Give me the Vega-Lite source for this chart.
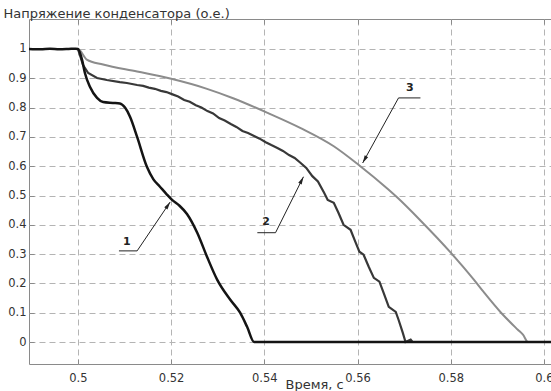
{
  "$schema": "https://vega.github.io/schema/vega-lite/v6.json",
  "width": 523,
  "height": 345,
  "autosize": {"type": "none"},
  "padding": {"left": 29, "top": 19, "right": 0, "bottom": 27},
  "background": "white",
  "config": {"view": {"stroke": "#8a8a8a", "strokeWidth": 1}, "font": "DejaVu Sans"},
  "resolve": {"axis": {"x": "independent"}},
  "datasets": {
    "c1": [
      {"t": 0.4895, "u": 1.0}, {"t": 0.492, "u": 0.999}, {"t": 0.494, "u": 1.001}, {"t": 0.496, "u": 0.999}, {"t": 0.498, "u": 1.0}, {"t": 0.4995, "u": 1.001},
      {"t": 0.5, "u": 1.0}, {"t": 0.5009, "u": 0.962}, {"t": 0.5015, "u": 0.918}, {"t": 0.5026, "u": 0.87}, {"t": 0.5041, "u": 0.833}, {"t": 0.5054, "u": 0.819},
      {"t": 0.5075, "u": 0.816}, {"t": 0.509, "u": 0.814}, {"t": 0.5101, "u": 0.8}, {"t": 0.5112, "u": 0.768}, {"t": 0.5127, "u": 0.7}, {"t": 0.5148, "u": 0.598},
      {"t": 0.5162, "u": 0.555}, {"t": 0.5176, "u": 0.53}, {"t": 0.519, "u": 0.505}, {"t": 0.5202, "u": 0.485}, {"t": 0.5218, "u": 0.465}, {"t": 0.5234, "u": 0.437},
      {"t": 0.5256, "u": 0.373}, {"t": 0.5277, "u": 0.291}, {"t": 0.5299, "u": 0.212}, {"t": 0.5327, "u": 0.144}, {"t": 0.5348, "u": 0.1}, {"t": 0.5363, "u": 0.052},
      {"t": 0.5378, "u": 0.0}, {"t": 0.6015, "u": 0.0}
    ],
    "c2": [
      {"t": 0.4895, "u": 1.0}, {"t": 0.5, "u": 1.0}, {"t": 0.5011, "u": 0.945}, {"t": 0.5022, "u": 0.918}, {"t": 0.5041, "u": 0.901}, {"t": 0.5062, "u": 0.894},
      {"t": 0.509, "u": 0.887}, {"t": 0.5105, "u": 0.884}, {"t": 0.5127, "u": 0.877}, {"t": 0.514, "u": 0.874}, {"t": 0.5152, "u": 0.868}, {"t": 0.5165, "u": 0.864},
      {"t": 0.5178, "u": 0.857}, {"t": 0.519, "u": 0.853}, {"t": 0.5203, "u": 0.845}, {"t": 0.5215, "u": 0.838}, {"t": 0.5228, "u": 0.826}, {"t": 0.524, "u": 0.82},
      {"t": 0.5253, "u": 0.808}, {"t": 0.5265, "u": 0.8}, {"t": 0.5278, "u": 0.788}, {"t": 0.529, "u": 0.78}, {"t": 0.5303, "u": 0.764}, {"t": 0.5315, "u": 0.756},
      {"t": 0.5328, "u": 0.744}, {"t": 0.534, "u": 0.734}, {"t": 0.5353, "u": 0.72}, {"t": 0.5365, "u": 0.713}, {"t": 0.5378, "u": 0.703}, {"t": 0.539, "u": 0.694},
      {"t": 0.5403, "u": 0.682}, {"t": 0.5415, "u": 0.672}, {"t": 0.5428, "u": 0.662}, {"t": 0.544, "u": 0.652}, {"t": 0.5453, "u": 0.638}, {"t": 0.5465, "u": 0.628},
      {"t": 0.5478, "u": 0.611}, {"t": 0.549, "u": 0.594}, {"t": 0.5503, "u": 0.566}, {"t": 0.5515, "u": 0.548}, {"t": 0.5528, "u": 0.51}, {"t": 0.5536, "u": 0.485},
      {"t": 0.5549, "u": 0.475}, {"t": 0.5559, "u": 0.441}, {"t": 0.557, "u": 0.4}, {"t": 0.5585, "u": 0.383}, {"t": 0.5596, "u": 0.339}, {"t": 0.5604, "u": 0.308},
      {"t": 0.5613, "u": 0.298}, {"t": 0.5624, "u": 0.257}, {"t": 0.5635, "u": 0.219}, {"t": 0.5647, "u": 0.206}, {"t": 0.5656, "u": 0.168}, {"t": 0.5667, "u": 0.12},
      {"t": 0.5682, "u": 0.103}, {"t": 0.5688, "u": 0.076}, {"t": 0.5697, "u": 0.032}, {"t": 0.5703, "u": 0.0}, {"t": 0.5714, "u": 0.008}, {"t": 0.5718, "u": 0.0},
      {"t": 0.6015, "u": 0.0}
    ],
    "c3": [
      {"t": 0.4895, "u": 1.0}, {"t": 0.5, "u": 1.0}, {"t": 0.5019, "u": 0.964}, {"t": 0.5054, "u": 0.947}, {"t": 0.5127, "u": 0.923}, {"t": 0.5198, "u": 0.899},
      {"t": 0.5277, "u": 0.864}, {"t": 0.5333, "u": 0.832}, {"t": 0.5407, "u": 0.782}, {"t": 0.5478, "u": 0.73}, {"t": 0.5549, "u": 0.668}, {"t": 0.5602, "u": 0.605},
      {"t": 0.5665, "u": 0.522}, {"t": 0.5686, "u": 0.492}, {"t": 0.5736, "u": 0.413}, {"t": 0.58, "u": 0.305}, {"t": 0.585, "u": 0.212}, {"t": 0.5871, "u": 0.17},
      {"t": 0.5908, "u": 0.1}, {"t": 0.5944, "u": 0.042}, {"t": 0.5955, "u": 0.025}, {"t": 0.5966, "u": 0.0}, {"t": 0.6015, "u": 0.0}
    ],
    "leaders": [
      {"t": 0.5088, "u": 0.311, "t2": 0.5127, "u2": 0.311},
      {"t": 0.5127, "u": 0.311, "t2": 0.5198, "u2": 0.478},
      {"t": 0.5385, "u": 0.373, "t2": 0.5424, "u2": 0.373},
      {"t": 0.5424, "u": 0.373, "t2": 0.5484, "u2": 0.564},
      {"t": 0.5688, "u": 0.833, "t2": 0.5735, "u2": 0.833},
      {"t": 0.5688, "u": 0.833, "t2": 0.5611, "u2": 0.611}
    ],
    "arrows": [
      {"id": "1", "t": 0.5198, "u": 0.478},
      {"id": "2", "t": 0.5484, "u": 0.564},
      {"id": "3", "t": 0.5611, "u": 0.611}
    ],
    "labels": [
      {"label": "1", "t": 0.5105, "u": 0.342},
      {"label": "2", "t": 0.5404, "u": 0.41},
      {"label": "3", "t": 0.5712, "u": 0.867}
    ]
  },
  "encoding": {
    "y": {"field": "u", "type": "quantitative",
      "scale": {"domain": [-0.075, 1.1023], "nice": false, "zero": false},
      "axis": {"values": [0, 0.1, 0.2, 0.3, 0.4, 0.5, 0.6, 0.7, 0.8, 0.9, 1], "format": ".1~f", "labelOverlap": false,
        "grid": true, "gridDash": [6, 4], "gridColor": "#b4b4b4", "gridWidth": 1,
        "domain": false, "tickSize": -5, "tickColor": "#8a8a8a", "labelPadding": 8,
        "labelFont": "DejaVu Sans", "labelFontSize": 11.5, "labelColor": "#333333",
        "title": "Напряжение конденсатора (о.е.)", "titleFont": "DejaVu Sans", "titleFontSize": 13, "titleFontWeight": "normal", "titleColor": "#333333",
        "titleAngle": 0, "titleX": -26, "titleY": -2, "titleAlign": "left", "titleBaseline": "alphabetic", "titleAnchor": null}}
  },
  "layer": [
    {
      "data": {"name": "c3"},
      "mark": {"type": "line", "color": "#8c8c8c", "strokeWidth": 2, "interpolate": "monotone"},
      "encoding": {
        "x": {"field": "t", "type": "quantitative",
          "scale": {"domain": [0.4895, 0.60173], "nice": false, "zero": false},
          "axis": {"orient": "bottom", "values": [0.5, 0.52, 0.54, 0.56, 0.58, 0.6], "format": ".2~f", "labelOverlap": false,
            "grid": true, "gridDash": [6, 4], "gridColor": "#b4b4b4", "gridWidth": 1,
            "domain": false, "tickSize": -5, "tickColor": "#8a8a8a", "labelPadding": 13,
            "labelFont": "DejaVu Sans", "labelFontSize": 11.5, "labelColor": "#333333",
            "title": "Время, с", "titleFont": "DejaVu Sans", "titleFontSize": 13, "titleFontWeight": "normal", "titleColor": "#333333",
            "titleX": 256, "titleY": 24, "titleAlign": "left", "titleBaseline": "alphabetic", "titleAnchor": null}}
      }
    },
    {
      "data": {"name": "c2"},
      "mark": {"type": "line", "color": "#383838", "strokeWidth": 2.2},
      "encoding": {
        "x": {"field": "t", "type": "quantitative",
          "axis": {"orient": "top", "values": [0.5, 0.52, 0.54, 0.56, 0.58, 0.6], "labels": false, "grid": false,
            "domain": false, "tickSize": -5, "tickColor": "#8a8a8a", "title": null}}
      }
    },
    {
      "data": {"name": "c1"},
      "mark": {"type": "line", "color": "#141414", "strokeWidth": 2.5, "interpolate": "monotone"},
      "encoding": {
        "x": {"field": "t", "type": "quantitative", "axis": null}
      }
    },
    {
      "data": {"name": "leaders"},
      "mark": {"type": "rule", "color": "#222222", "strokeWidth": 1},
      "encoding": {
        "x": {"field": "t", "type": "quantitative", "axis": null},
        "x2": {"field": "t2"},
        "y2": {"field": "u2"}
      }
    },
    {
      "data": {"name": "arrows"},
      "transform": [{"filter": "datum.id == '1'"}],
      "mark": {"type": "point", "shape": "M0,0L-0.5,2L0.5,2Z", "filled": true, "color": "#222222", "size": 60, "angle": 34, "opacity": 1},
      "encoding": {
        "x": {"field": "t", "type": "quantitative", "axis": null}
      }
    },
    {
      "data": {"name": "arrows"},
      "transform": [{"filter": "datum.id == '2'"}],
      "mark": {"type": "point", "shape": "M0,0L-0.5,2L0.5,2Z", "filled": true, "color": "#222222", "size": 60, "angle": 27, "opacity": 1},
      "encoding": {
        "x": {"field": "t", "type": "quantitative", "axis": null}
      }
    },
    {
      "data": {"name": "arrows"},
      "transform": [{"filter": "datum.id == '3'"}],
      "mark": {"type": "point", "shape": "M0,0L-0.5,2L0.5,2Z", "filled": true, "color": "#222222", "size": 60, "angle": 209, "opacity": 1},
      "encoding": {
        "x": {"field": "t", "type": "quantitative", "axis": null}
      }
    },
    {
      "data": {"name": "labels"},
      "mark": {"type": "text", "font": "DejaVu Sans", "fontSize": 11, "fontWeight": "bold", "color": "#222222", "align": "center", "baseline": "middle"},
      "encoding": {
        "x": {"field": "t", "type": "quantitative", "axis": null},
        "text": {"field": "label"}
      }
    }
  ]
}
